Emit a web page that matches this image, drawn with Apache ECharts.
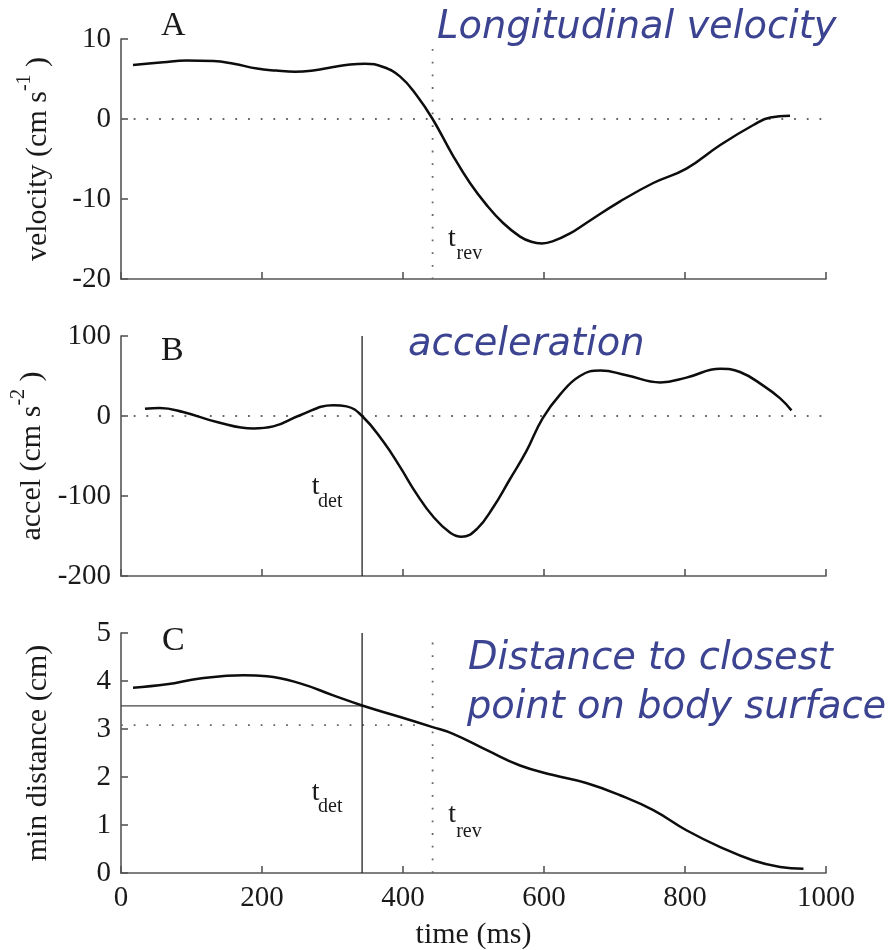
<!DOCTYPE html>
<html><head><meta charset="utf-8">
<script src="https://cdn.jsdelivr.net/npm/echarts@6/dist/echarts.min.js"></script>
<style>html,body{margin:0;padding:0;background:#fff}#c{width:890px;height:950px}</style>
</head><body><div id="c"></div>
<script>
// ---- data ----
const timeRange = [0, 1000];
const velTime = [17, 60, 93, 131, 160, 193, 220, 247, 275, 301, 325, 346, 372, 396, 419, 442, 471, 495, 519, 542, 566, 582, 597, 612, 637, 660, 708, 755, 802, 850, 897, 921, 949];
const velVal  = [6.75, 7.1, 7.3, 7.25, 6.9, 6.3, 6.05, 5.9, 6.1, 6.5, 6.8, 6.9, 6.5, 5.3, 3.0, 0.0, -4.6, -8.0, -10.8, -13.0, -14.7, -15.35, -15.55, -15.3, -14.3, -13.0, -10.3, -8.0, -6.2, -3.25, -0.75, 0.2, 0.4];
const accTime = [34, 55, 88, 136, 188, 216, 254, 301, 320, 342, 372, 396, 419, 443, 467, 483, 505, 528, 551, 575, 598, 623, 651, 680, 717, 765, 802, 850, 878, 911, 935, 951];
const accVal  = [9, 10, 5, -7.5, -15.5, -13, 1, 13.5, 12, 0, -32, -64, -97, -126, -146, -151, -141, -114, -80, -44, -3, 27, 50, 57, 51, 42, 48, 59, 55, 38, 22, 7];
const distTime = [17, 65, 112, 174, 207, 254, 301, 342, 396, 442, 471, 519, 566, 613, 660, 708, 755, 802, 850, 897, 935, 968];
const distVal  = [3.86, 3.93, 4.05, 4.12, 4.1, 3.95, 3.70, 3.49, 3.25, 3.04, 2.9, 2.56, 2.24, 2.04, 1.875, 1.62, 1.31, 0.89, 0.54, 0.26, 0.125, 0.09];
const tDet = 342, tRev = 442;
const distAtDet = 3.48, distAtRev = 3.08;
const velRange = [-20, 10], accRange = [-200, 100], distRange = [0, 5];
const velTicks = 10, accTicks = 100, distTicks = 1, timeTicks = 200;
const revTopA = 8.75, revTopC = 4.8;

// ---- chart ----
const serif = '"Liberation Serif","Times New Roman",serif';
const AX = '#555', TXT = '#1a1a1a', DOT = '#666', BLUE = '#3c4391';
const zip = (a, b) => a.map((v, i) => [v, b[i]]);
const chart = echarts.init(document.getElementById('c'), null, {renderer: 'canvas'});

const grids = [
  {left: 121, top: 39, width: 705, height: 240},
  {left: 121, top: 336, width: 705, height: 240},
  {left: 121, top: 633, width: 705, height: 240}
].map(g => Object.assign(g, {containLabel: false, outerBoundsMode: 'none'}));

const plain = v => String(v);
function makeX(gi, last) {
  return {
    type: 'value', gridIndex: gi, min: timeRange[0], max: timeRange[1], interval: timeTicks,
    axisLine: {show: true, onZero: false, lineStyle: {color: AX, width: 1.6}},
    axisTick: {show: true, inside: true, length: 7, lineStyle: {color: AX, width: 1.6}},
    axisLabel: {show: last, margin: 11, fontFamily: serif, fontSize: 29, color: TXT, showMinLabel: true, showMaxLabel: true, formatter: plain},
    splitLine: {show: false},
    name: last ? 'time (ms)' : '', nameLocation: 'middle', nameGap: 47,
    nameTextStyle: {fontFamily: serif, fontSize: 30, color: TXT}
  };
}
const richName = {
  m: {fontFamily: serif, fontSize: 30, color: TXT, verticalAlign: 'bottom'},
  p: {fontFamily: serif, fontSize: 20, color: TXT, verticalAlign: 'top', padding: [0, 0, 18, 0]}
};
function makeY(gi, range, iv, name) {
  return {
    type: 'value', gridIndex: gi, min: range[0], max: range[1], interval: iv,
    axisLine: {show: true, onZero: false, lineStyle: {color: AX, width: 1.6}},
    axisTick: {show: true, inside: true, length: 7, lineStyle: {color: AX, width: 1.6}},
    axisLabel: {margin: 10, fontFamily: serif, fontSize: 29, color: TXT, showMinLabel: true, showMaxLabel: true, formatter: plain},
    splitLine: {show: false},
    name: name, nameLocation: 'middle', nameGap: 68,
    nameTextStyle: {rich: richName}
  };
}
const curve = (xi, data) => ({type: 'line', xAxisIndex: xi, yAxisIndex: xi, data, smooth: 0.45, showSymbol: false, symbol: 'none', z: 5,
  lineStyle: {color: '#0d0d0d', width: 2.5}});
const dotted = (xi, data) => ({type: 'line', xAxisIndex: xi, yAxisIndex: xi, data, showSymbol: false, symbol: 'none', z: 2,
  lineStyle: {color: DOT, width: 1.8, type: [1.8, 10.9]}});
const solid = (xi, data, c) => ({type: 'line', xAxisIndex: xi, yAxisIndex: xi, data, showSymbol: false, symbol: 'none', z: 3,
  lineStyle: {color: c || '#222', width: 1.3}});

chart.setOption({
  animation: false,
  backgroundColor: '#fff',
  grid: grids,
  xAxis: [makeX(0, false), makeX(1, false), makeX(2, true)],
  yAxis: [
    makeY(0, velRange, velTicks, '{m|velocity (cm s}{p|-1}{m| )}'),
    makeY(1, accRange, accTicks, '{m|accel (cm s}{p|-2}{m| )}'),
    makeY(2, distRange, distTicks, '{m|min distance (cm)}')
  ],
  series: [
    dotted(0, [[timeRange[0], 0], [timeRange[1], 0]]),
    dotted(0, [[tRev, revTopA], [tRev, velRange[0]]]),
    curve(0, zip(velTime, velVal)),
    dotted(1, [[timeRange[0], 0], [timeRange[1], 0]]),
    solid(1, [[tDet, accRange[1]], [tDet, accRange[0]]]),
    curve(1, zip(accTime, accVal)),
    solid(2, [[tDet, distRange[1]], [tDet, distRange[0]]]),
    dotted(2, [[tRev, revTopC], [tRev, distRange[0]]]),
    solid(2, [[timeRange[0], distAtDet], [tDet, distAtDet]], '#444'),
    dotted(2, [[timeRange[0], distAtRev], [tRev, distAtRev]]),
    curve(2, zip(distTime, distVal))
  ]
});

// ---- annotations ----
const px = (gi, t) => chart.convertToPixel({xAxisIndex: gi, yAxisIndex: gi}, [t, 0])[0];
function txt(x, y, s, size, opts) {
  return Object.assign({type: 'text', x, y, silent: true,
    style: Object.assign({text: s, font: size + 'px ' + serif, fill: TXT, align: 'left', verticalAlign: 'middle'}, opts || {})});
}
function tLabel(xLine, dx, baseT, baseS, sub, subDx) {
  return [
    txt(xLine + dx, baseT - 8.5, 't', 28),
    txt(xLine + dx + subDx, baseS - 6.1, sub, 20)
  ];
}
function blue(x, y, s) {
  return {type: 'text', x, y, silent: true,
    style: {text: s, font: 'italic 38.4px "DejaVu Sans"', fill: BLUE, align: 'left', verticalAlign: 'middle'}};
}
const xDetB = px(1, tDet), xDetC = px(2, tDet), xRevA = px(0, tRev), xRevC = px(2, tRev);
chart.setOption({
  graphic: [
    txt(161, 26.3, 'A', 34),
    txt(161, 351.3, 'B', 34),
    txt(162, 640.6, 'C', 34),
    ...tLabel(xDetB, -50.3, 495, 508, 'det', 6.3),
    ...tLabel(xDetC, -50.3, 801, 813, 'det', 6.3),
    ...tLabel(xRevA, 15.3, 246.7, 260, 'rev', 8.7),
    ...tLabel(xRevC, 15.6, 823, 838, 'rev', 8),
    blue(437, 28.5, 'Longitudinal velocity'),
    blue(408, 345.5, 'acceleration'),
    blue(468, 659.5, 'Distance to closest'),
    blue(467, 708.5, 'point on body surface')
  ]
});
</script></body></html>
